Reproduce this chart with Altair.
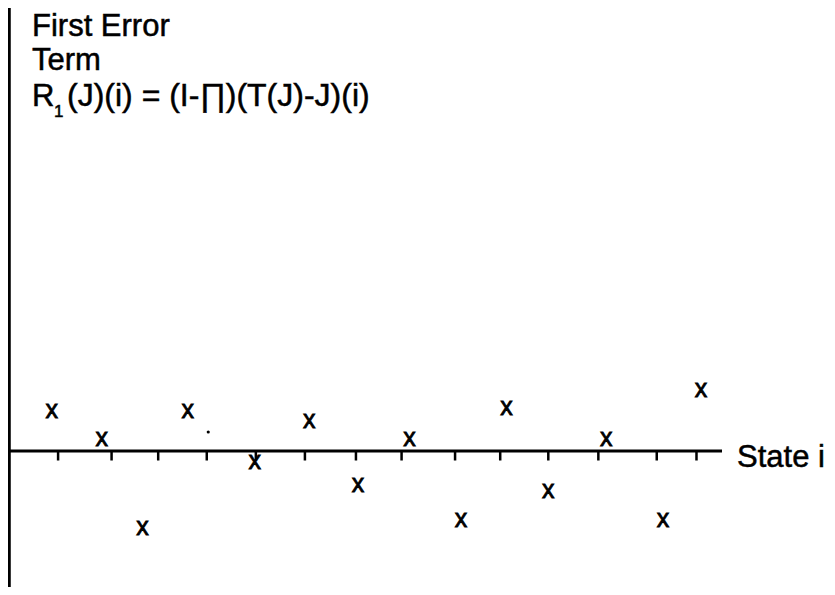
import altair as alt
import pandas as pd

# --- values ---
# state positions (in state units) of the "x" marks and their error values
mark_state = [0.85, 1.87, 2.70, 3.62, 4.99, 6.10, 7.09, 8.14, 9.19, 10.12, 10.97, 12.15, 13.31, 14.08]
mark_error = [3.93, 1.10, -7.83, 3.93, -1.23, 2.93, -3.50, 1.07, -6.97, 4.17, -4.10, 1.10, -6.97, 6.00]
# tick positions along the State axis
tick_state = [0.98, 2.07, 3.02, 4.01, 5.01, 6.01, 7.05, 7.98, 9.07, 9.99, 10.97, 11.99, 13.18, 13.99]
# small stray dot
dot_state = [4.04]
dot_error = [1.9]
axis_end = [14.51]

title_lines = ["First Error", "Term"]
formula_main = "R"
formula_sub = "1"
formula_rest = "(J)(i) = (I-\u220f)(T(J)-J)(i)"
x_label = "State i"

FONT = "Liberation Sans"
W, H = 819, 579

xs = alt.Scale(domain=[-0.0408, 16.6497], nice=False, zero=False)
ys = alt.Scale(domain=[-13.6, 44.3], nice=False, zero=False)

marks_df = pd.DataFrame({"state": mark_state, "err": mark_error})
ticks_df = pd.DataFrame({"state": tick_state, "zero": [0.0] * len(tick_state)})
dot_df = pd.DataFrame({"state": dot_state, "err": dot_error})
haxis_df = pd.DataFrame({"x0": [0.0], "x1": axis_end, "y": [0.0]})
vaxis_df = pd.DataFrame({"x": [-0.02]})

vaxis = alt.Chart(vaxis_df).mark_rule(color="black", strokeWidth=3.5).encode(
    x=alt.X("x:Q", scale=xs, axis=None)
)
haxis = alt.Chart(haxis_df).mark_rule(color="black", strokeWidth=3).encode(
    x=alt.X("x0:Q", scale=xs, axis=None),
    x2="x1:Q",
    y=alt.Y("y:Q", scale=ys, axis=None),
)
ticks = alt.Chart(ticks_df).mark_tick(
    color="black", orient="vertical", size=9, thickness=2.5, yOffset=5, opacity=1
).encode(
    x=alt.X("state:Q", scale=xs, axis=None),
    y=alt.Y("zero:Q", scale=ys, axis=None),
)
xmarks = alt.Chart(marks_df).mark_text(
    text="x", font=FONT, fontSize=25, color="black", align="center",
    baseline="alphabetic", dy=6, stroke="black", strokeWidth=0.8
).encode(
    x=alt.X("state:Q", scale=xs, axis=None),
    y=alt.Y("err:Q", scale=ys, axis=None),
)
dot = alt.Chart(dot_df).mark_point(
    filled=True, color="black", size=10, opacity=1, shape="circle"
).encode(
    x=alt.X("state:Q", scale=xs, axis=None),
    y=alt.Y("err:Q", scale=ys, axis=None),
)


def label(txt, x, y, size=31, align="left"):
    return alt.Chart(pd.DataFrame({"t": [txt]})).mark_text(
        font=FONT, fontSize=size, color="black", align=align, baseline="alphabetic",
        stroke="black", strokeWidth=0.5
    ).encode(text="t:N", x=alt.value(x), y=alt.value(y))


texts = [
    label(title_lines[0], 24, 28),
    label(title_lines[1], 24, 62),
    label(formula_main, 24, 98),
    label(formula_sub, 46, 109, size=17),
    label(formula_rest, 59, 98, size=32),
    label(x_label, 729, 459, size=31),
]

chart = alt.layer(vaxis, haxis, ticks, xmarks, dot, *texts).properties(
    width=W, height=H, padding=0, autosize=alt.AutoSizeParams(type="none"),
    background="white",
).configure_view(stroke=None)

chart.save("out.html", embed_options={"renderer": "svg", "actions": False})
